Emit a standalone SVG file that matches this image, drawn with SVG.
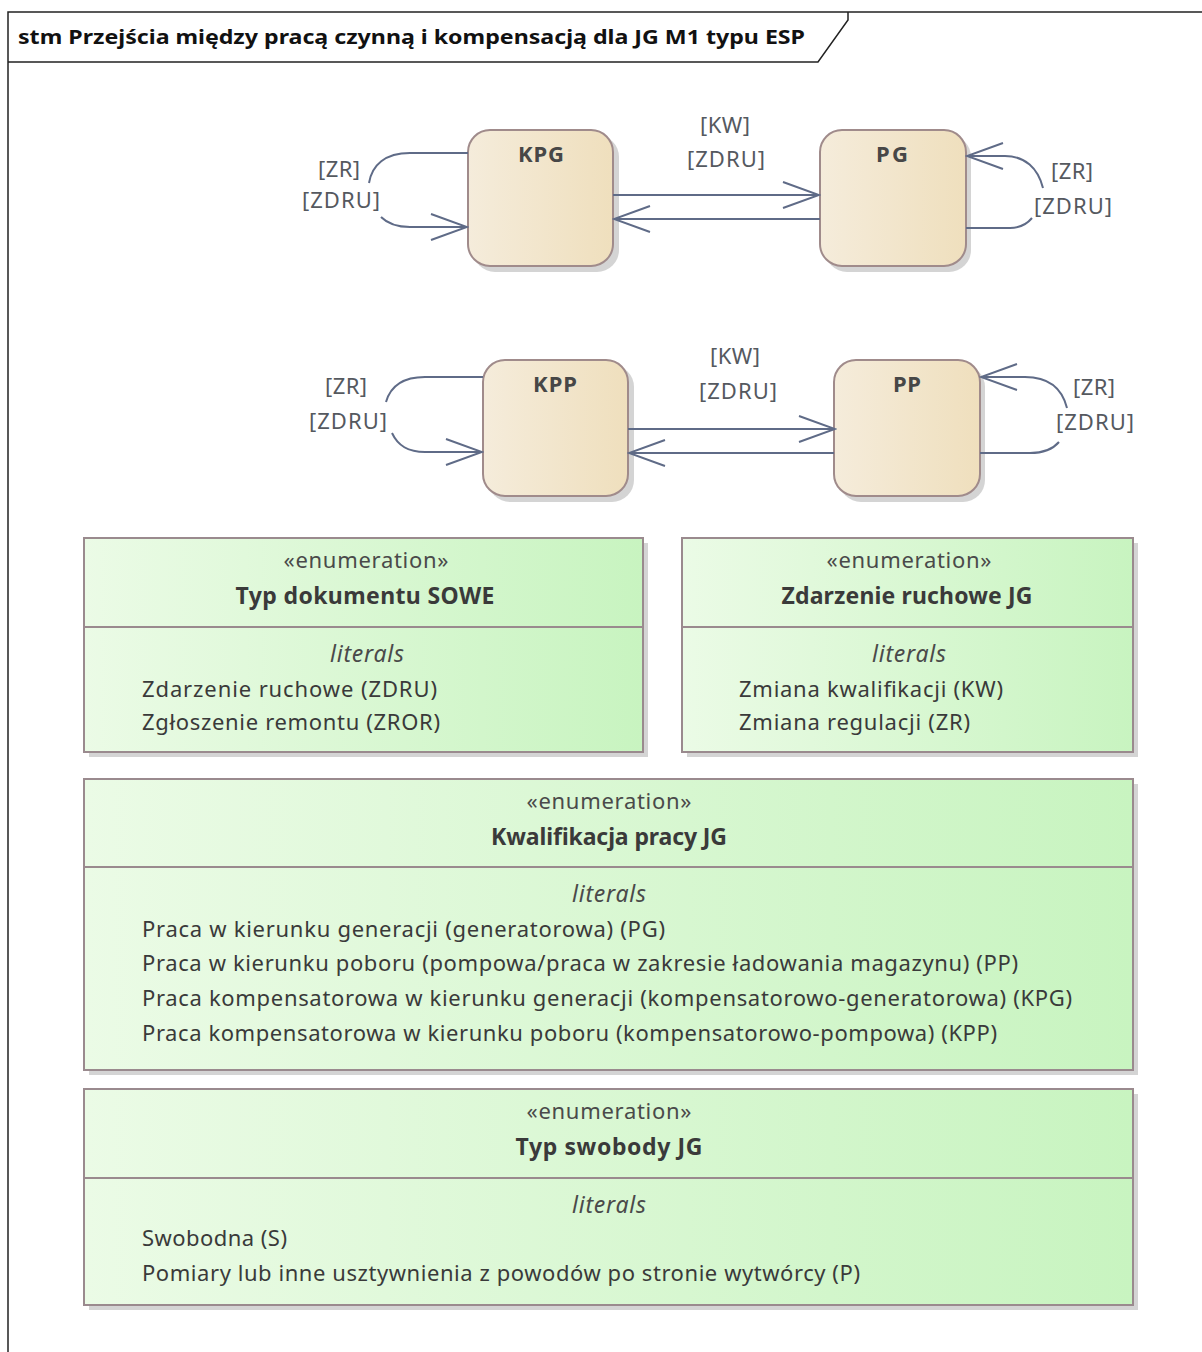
<svg xmlns="http://www.w3.org/2000/svg" width="1202" height="1352" viewBox="0 0 1202 1352">
<defs>
<linearGradient id="gState" x1="0" y1="0" x2="1" y2="0">
<stop offset="0" stop-color="#f5ecdb"/>
<stop offset="1" stop-color="#efdfbd"/>
</linearGradient>
<linearGradient id="gEnum" x1="0" y1="0" x2="1" y2="0">
<stop offset="0" stop-color="#ebfbe6"/>
<stop offset="1" stop-color="#c8f4c0"/>
</linearGradient>
<marker id="arr" viewBox="0 0 40 30" refX="38" refY="15" markerWidth="40" markerHeight="30" markerUnits="userSpaceOnUse" orient="auto">
<path d="M2,2 L38,15 L2,28" fill="none" stroke="#5f6b87" stroke-width="2"/>
</marker>
</defs>
<style>
text{font-family:"Noto Sans","Open Sans","DejaVu Sans",sans-serif;fill:#3f3f3f}
.title{font-size:20px;font-weight:bold;fill:#111}
.sname{font-size:22px;font-weight:bold;text-anchor:middle;fill:#474747}
.lbl{font-size:22px;text-anchor:middle;fill:#55595f}
.st{font-size:22px;text-anchor:middle;fill:#4a4a4a}
.en{font-size:23px;font-weight:bold;text-anchor:middle;fill:#3a3a3a}
.lit{font-size:23px;font-style:italic;text-anchor:middle;fill:#4a4a4a}
.item{font-size:22px;fill:#3a3a3a}
.state{fill:url(#gState);stroke:#a08b8b;stroke-width:2}
.shadow{fill:#d4d4d4}
.enum{fill:url(#gEnum);stroke:#9a8a8e;stroke-width:2}
.div{stroke:#9a8a8e;stroke-width:2}
.conn{fill:none;stroke:#5f6b87;stroke-width:2}
</style>
<rect x="0" y="0" width="1202" height="1352" fill="#ffffff"/>
<g id="frame">
<path d="M8,1352 V12 H1202" fill="none" stroke="#222" stroke-width="1.5"/>
<path d="M8,62 H818 L848,20 V12" fill="none" stroke="#222" stroke-width="1.5"/>
<text class="title" x="18" y="44" textLength="787" lengthAdjust="spacingAndGlyphs">stm Przejścia między pracą czynną i kompensacją dla JG M1 typu ESP</text>
</g>
<g id="KPG">
<rect class="shadow" x="473" y="135" width="146" height="137" rx="22"/>
<rect class="state" x="468" y="130" width="145" height="136" rx="22"/>
<text class="sname" x="541" y="162" textLength="46">KPG</text>
</g>
<g id="PG">
<rect class="shadow" x="825" y="135" width="146" height="137" rx="22"/>
<rect class="state" x="820" y="130" width="146" height="136" rx="22"/>
<text class="sname" x="892" y="162" textLength="32">PG</text>
</g>
<g id="KPP">
<rect class="shadow" x="488" y="365" width="146" height="137" rx="22"/>
<rect class="state" x="483" y="360" width="145" height="136" rx="22"/>
<text class="sname" x="555" y="392" textLength="44">KPP</text>
</g>
<g id="PP">
<rect class="shadow" x="839" y="365" width="146" height="137" rx="22"/>
<rect class="state" x="834" y="360" width="146" height="136" rx="22"/>
<text class="sname" x="907" y="392" textLength="28">PP</text>
</g>
<g id="connectors">
<path class="conn" d="M613,195 H819" marker-end="url(#arr)"/>
<path class="conn" d="M820,219 H614" marker-end="url(#arr)"/>
<path class="conn" d="M468,153 H410 C385,153 372,165 369,183"/>
<path class="conn" d="M381,217 C388,224 396,227 410,227 H467" marker-end="url(#arr)"/>
<path class="conn" d="M966,228 H1010 C1020,228 1027,224 1032,218"/>
<path class="conn" d="M1043,188 C1038,168 1025,156 1005,156 H967" marker-end="url(#arr)"/>
<text class="lbl" x="339" y="177" textLength="42">[ZR]</text>
<text class="lbl" x="341" y="208" textLength="78">[ZDRU]</text>
<text class="lbl" x="725" y="133" textLength="50">[KW]</text>
<text class="lbl" x="726" y="167" textLength="78">[ZDRU]</text>
<text class="lbl" x="1072" y="179" textLength="42">[ZR]</text>
<text class="lbl" x="1073" y="214" textLength="78">[ZDRU]</text>
<path class="conn" d="M628,429 H835" marker-end="url(#arr)"/>
<path class="conn" d="M834,453 H629" marker-end="url(#arr)"/>
<path class="conn" d="M483,377 H425 C400,377 390,388 386,402"/>
<path class="conn" d="M392,433 C398,446 408,452 425,452 H482" marker-end="url(#arr)"/>
<path class="conn" d="M980,453 H1030 C1045,453 1053,449 1059,442"/>
<path class="conn" d="M1067,408 C1062,388 1048,377 1025,377 H981" marker-end="url(#arr)"/>
<text class="lbl" x="346" y="394" textLength="42">[ZR]</text>
<text class="lbl" x="348" y="429" textLength="78">[ZDRU]</text>
<text class="lbl" x="735" y="364" textLength="50">[KW]</text>
<text class="lbl" x="738" y="399" textLength="78">[ZDRU]</text>
<text class="lbl" x="1094" y="395" textLength="42">[ZR]</text>
<text class="lbl" x="1095" y="430" textLength="78">[ZDRU]</text>
</g>
<g id="TypDokumentuSOWE">
<rect class="shadow" x="89" y="543" width="559" height="214"/>
<rect class="enum" x="84" y="538" width="559" height="214"/>
<line class="div" x1="84" y1="627" x2="643" y2="627"/>
<text class="st" x="366" y="568" textLength="165">«enumeration»</text>
<text class="en" x="365" y="604" textLength="259">Typ dokumentu SOWE</text>
<text class="lit" x="367" y="662" textLength="74">literals</text>
<text class="item" x="142" y="697" textLength="295">Zdarzenie ruchowe (ZDRU)</text>
<text class="item" x="142" y="730" textLength="298">Zgłoszenie remontu (ZROR)</text>
</g>
<g id="ZdarzenieRuchoweJG">
<rect class="shadow" x="687" y="543" width="451" height="214"/>
<rect class="enum" x="682" y="538" width="451" height="214"/>
<line class="div" x1="682" y1="627" x2="1133" y2="627"/>
<text class="st" x="909" y="568" textLength="165">«enumeration»</text>
<text class="en" x="907" y="604" textLength="251">Zdarzenie ruchowe JG</text>
<text class="lit" x="909" y="662" textLength="74">literals</text>
<text class="item" x="739" y="697" textLength="264">Zmiana kwalifikacji (KW)</text>
<text class="item" x="739" y="730" textLength="231">Zmiana regulacji (ZR)</text>
</g>
<g id="KwalifikacjaPracyJG">
<rect class="shadow" x="89" y="784" width="1049" height="291"/>
<rect class="enum" x="84" y="779" width="1049" height="291"/>
<line class="div" x1="84" y1="867" x2="1133" y2="867"/>
<text class="st" x="609" y="809" textLength="165">«enumeration»</text>
<text class="en" x="609" y="845" textLength="236">Kwalifikacja pracy JG</text>
<text class="lit" x="609" y="902" textLength="74">literals</text>
<text class="item" x="142" y="937" textLength="523">Praca w kierunku generacji (generatorowa) (PG)</text>
<text class="item" x="142" y="971" textLength="876">Praca w kierunku poboru (pompowa/praca w zakresie ładowania magazynu) (PP)</text>
<text class="item" x="142" y="1006" textLength="930">Praca kompensatorowa w kierunku generacji (kompensatorowo-generatorowa) (KPG)</text>
<text class="item" x="142" y="1041" textLength="855">Praca kompensatorowa w kierunku poboru (kompensatorowo-pompowa) (KPP)</text>
</g>
<g id="TypSwobodyJG">
<rect class="shadow" x="89" y="1094" width="1049" height="216"/>
<rect class="enum" x="84" y="1089" width="1049" height="216"/>
<line class="div" x1="84" y1="1178" x2="1133" y2="1178"/>
<text class="st" x="609" y="1119" textLength="165">«enumeration»</text>
<text class="en" x="609" y="1155" textLength="187">Typ swobody JG</text>
<text class="lit" x="609" y="1213" textLength="74">literals</text>
<text class="item" x="142" y="1246" textLength="145">Swobodna (S)</text>
<text class="item" x="142" y="1281" textLength="718">Pomiary lub inne usztywnienia z powodów po stronie wytwórcy (P)</text>
</g>
</svg>
